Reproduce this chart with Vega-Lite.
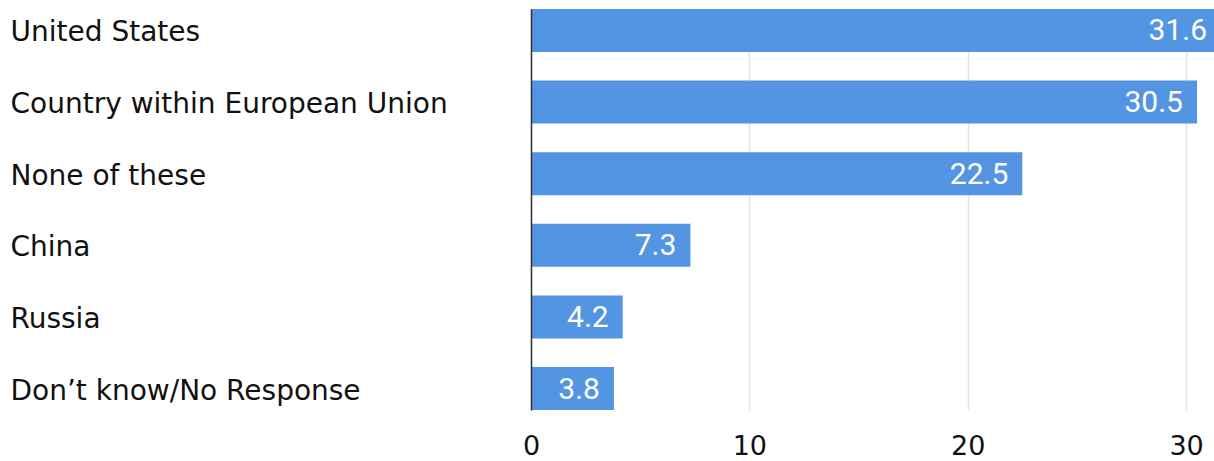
{
  "$schema": "https://vega.github.io/schema/vega-lite/v6.json",
  "autosize": {"type": "none"},
  "padding": {"left": 531, "top": 9, "right": 0, "bottom": 51},
  "width": 690,
  "height": 401,
  "background": "white",
  "config": {"view": {"stroke": null}},
  "data": {
    "values": [
      {"answer": "United States", "value": 31.6},
      {"answer": "Country within European Union", "value": 30.5},
      {"answer": "None of these", "value": 22.5},
      {"answer": "China", "value": 7.3},
      {"answer": "Russia", "value": 4.2},
      {"answer": "Don’t know/No Response", "value": 3.8}
    ]
  },
  "encoding": {
    "y": {
      "field": "answer",
      "type": "nominal",
      "sort": null,
      "scale": {"paddingInner": 0.4, "paddingOuter": 0},
      "axis": {
        "title": null,
        "ticks": false,
        "zindex": 1,
        "labelAlign": "left",
        "labelPadding": 521,
        "labelOffset": 3,
        "labelFont": "DejaVu Sans",
        "labelFontSize": 28,
        "labelColor": "#111111",
        "labelLimit": 600,
        "domainColor": "#333333",
        "domainWidth": 1.5,
        "grid": false
      }
    },
    "x": {
      "field": "value",
      "type": "quantitative",
      "scale": {"domain": [0, 31.6], "nice": false},
      "axis": {
        "title": null,
        "values": [0, 10, 20, 30],
        "ticks": false,
        "domain": false,
        "labelPadding": 23,
        "labelFont": "DejaVu Sans",
        "labelFontSize": 27,
        "labelColor": "#111111",
        "labelFlush": false,
        "gridColor": "#e3e3e3",
        "gridWidth": 1.5
      }
    }
  },
  "layer": [
    {"mark": {"type": "bar", "color": "#5395e2"}},
    {
      "mark": {"type": "text", "align": "right", "baseline": "middle", "dx": -14, "dy": 1, "color": "white", "font": "Roboto", "fontSize": 30},
      "encoding": {"text": {"field": "value", "type": "quantitative", "format": ".1f"}}
    }
  ]
}
